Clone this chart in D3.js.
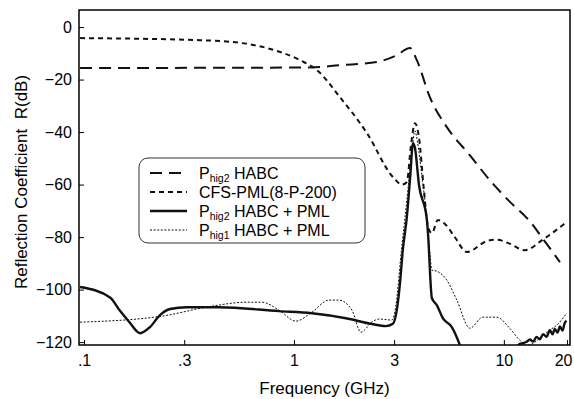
<!DOCTYPE html>
<html>
<head>
<meta charset="utf-8">
<script src="https://cdn.jsdelivr.net/npm/d3@7"></script>
<style>
  body { margin: 0; background: #fff; }
  svg { font-family: "Liberation Sans", Arial, sans-serif; }
</style>
</head>
<body>
<svg class="chart" width="574" height="399"></svg>
<script>

// tick values and their printed labels
let xTicks = [0.1, 0.3, 1, 3, 10, 20];
let xTickLabels = [".1", ".3", "1", "3", "10", "20"];
let yTicks = [0, -20, -40, -60, -80, -100, -120];

// Phig2 HABC (long dash)
let habc = [
  [0.0957, -15.6], [1.19, -15.4], [1.66, -14.5], [2.48, -13.3], [3.09, -10.7],
  [3.57, -8], [3.85, -12.6], [4.44, -26.7], [5.35, -38.1], [6.88, -48.8],
  [8.57, -58.3], [10.66, -66.5], [13.3, -74], [15.3, -80.5], [18.5, -89.5]
];

// CFS-PML(8-P-200) (short dash)
let cfsPml = [
  [0.0957, -4.2], [0.357, -5], [0.512, -5.7], [0.744, -8], [1.068, -12.6],
  [1.287, -16.4], [1.656, -26.7], [2.227, -40.4], [2.96, -57.1], [3.27, -60],
  [3.45, -59], [3.61, -45], [3.77, -36.6], [3.94, -42], [4.16, -62],
  [4.35, -76], [4.54, -78.5], [4.85, -73.5], [5.24, -75], [5.84, -80],
  [6.66, -85.7], [8.31, -81.5], [9.26, -81], [10.66, -82.5], [12.6, -85],
  [15.3, -81], [19.9, -74.3]
];

// Phig2 HABC + PML (solid)
let habc2Pml = [
  [0.0957, -99], [0.133, -103], [0.148, -108], [0.166, -112.8], [0.179, -116],
  [0.185, -116.6], [0.206, -114.3], [0.230, -109.7], [0.257, -107.4], [0.309, -106.7],
  [0.440, -106.7], [0.848, -108.2], [1.218, -109], [1.769, -110.9], [2.35, -113.1],
  [2.74, -113.9], [2.96, -113], [3.09, -107.8], [3.20, -97.5], [3.30, -85],
  [3.45, -72.4], [3.58, -57], [3.69, -44.2], [3.77, -46], [3.94, -60],
  [4.30, -73.5], [4.35, -78.5], [4.54, -103.2], [4.80, -106], [5.12, -110.9],
  [5.65, -114.3], [6.17, -121.1], [6.6, -128], [11.2, -128], [11.70, -121.1],
  [12.83, -119.9], [13.3, -119], [13.79, -119.8], [14.31, -118], [14.84, -118.9],
  [15.38, -117], [15.97, -118], [16.56, -115.5], [17.06, -117], [17.49, -115],
  [18.02, -116.4], [18.5, -114], [19.03, -115.6], [19.5, -112.7], [19.89, -111.9]
];

// Phig1 HABC + PML (fine dots)
let habc1Pml = [
  [0.0957, -112.4], [0.235, -110.1], [0.407, -106.3], [0.591, -104.8], [0.704, -104.8],
  [0.848, -107.8], [1.022, -112], [1.218, -108.6], [1.468, -104], [1.637, -104],
  [1.888, -107.8], [2.084, -116.2], [2.35, -112.4], [2.54, -111.2], [2.93, -111.6],
  [3.06, -106], [3.25, -85], [3.45, -66], [3.65, -47], [3.77, -39.5],
  [3.88, -44], [4.06, -56], [4.30, -73.5], [4.45, -87], [4.54, -92.6],
  [4.80, -93], [5.35, -96.4], [5.97, -104], [6.89, -114.7], [7.94, -110.5],
  [9.26, -110.5], [10.66, -114.7], [11.9, -119.2], [12.87, -121.1], [13.3, -121],
  [14.84, -118.5], [16.56, -115.4], [17.9, -113.5], [19.9, -109]
];

let legendNames = [
  ["P", "hig2", " HABC"],
  ["CFS-PML(8-P-200)", "", ""],
  ["P", "hig2", " HABC + PML"],
  ["P", "hig1", " HABC + PML"]
];

let svg = d3.select(".chart");

let margin = { top: 10, right: 4, bottom: 54, left: 79 };
let plotWidth = 574 - margin.left - margin.right;
let plotHeight = 399 - margin.top - margin.bottom;

let x = d3.scaleLog()
  .domain([0.0946, 20.66])
  .range([0, plotWidth]);

let y = d3.scaleLinear()
  .domain([-121.1, 6.5])
  .range([plotHeight, 0]);

let plot = svg.append("g").attr("transform", translate(margin.left, margin.top));

plot.append("clipPath").attr("id", "clip")
  .append("rect")
  .attr("width", plotWidth)
  .attr("height", plotHeight);

// inward ticks on bottom and left
let xAxis = d3.axisBottom(x)
  .tickValues(xTicks)
  .tickSize(-5)
  .tickPadding(10)
  .tickFormat((d, i) => xTickLabels[i]);

let yAxis = d3.axisLeft(y)
  .tickValues(yTicks)
  .tickSize(-5)
  .tickPadding(7);

let xGroup = plot.append("g").attr("transform", translate(0, plotHeight)).call(xAxis);
let yGroup = plot.append("g").call(yAxis);

[xGroup, yGroup].forEach(g => {
  g.select(".domain").remove();
  g.selectAll("line").attr("stroke", "#000").attr("stroke-width", 1);
  g.selectAll("text").attr("fill", "#000").style("font-size", "16px");
});

// the last label sits against the page edge; nudge it inside
xGroup.selectAll(".tick text").filter(d => d === 20).attr("dx", -4);

// frame
plot.append("rect")
  .attr("width", plotWidth)
  .attr("height", plotHeight)
  .attr("fill", "none")
  .attr("stroke", "#000")
  .attr("stroke-width", 1.5);

let line = d3.line()
  .x(d => x(d[0]))
  .y(d => y(d[1]))
  .curve(d3.curveMonotoneX);

let styles = [
  { data: habc, width: 2, dash: "12,7" },
  { data: cfsPml, width: 2, dash: "5,4" },
  { data: habc2Pml, width: 2.4, dash: null },
  { data: habc1Pml, width: 1, dash: "2,1.6" }
];

let curves = plot.append("g").attr("clip-path", "url(#clip)");
styles.forEach(s => {
  curves.append("path")
    .datum(s.data)
    .attr("d", line)
    .attr("fill", "none")
    .attr("stroke", "#111")
    .attr("stroke-width", s.width)
    .attr("stroke-dasharray", s.dash);
});

// legend
let legend = svg.append("g").attr("transform", translate(139, 158));
legend.append("rect")
  .attr("width", 226)
  .attr("height", 85)
  .attr("rx", 9)
  .attr("fill", "#fff")
  .attr("stroke", "#333")
  .attr("stroke-width", 1);

legendNames.forEach((n, i) => {
  let cy = 15 + i * 19;
  legend.append("line")
    .attr("x1", 11).attr("x2", 48)
    .attr("y1", cy).attr("y2", cy)
    .attr("stroke", "#111")
    .attr("stroke-width", styles[i].width)
    .attr("stroke-dasharray", styles[i].dash);
  let t = legend.append("text")
    .attr("x", 60)
    .attr("y", cy + 6)
    .style("font-size", "16px");
  t.append("tspan").text(n[0]);
  if (n[1]) {
    t.append("tspan").attr("dy", 3).style("font-size", "10.5px").text(n[1]);
    t.append("tspan").attr("dy", -3).text(n[2]);
  }
});

// axis titles
svg.append("text")
  .attr("x", margin.left + plotWidth / 2)
  .attr("y", 394)
  .attr("text-anchor", "middle")
  .style("font-size", "17px")
  .text("Frequency (GHz)");

svg.append("text")
  .attr("transform", "translate(27,182) rotate(-90)")
  .attr("text-anchor", "middle")
  .style("font-size", "17px")
  .style("white-space", "pre")
  .text("Reflection Coefficient  R(dB)");

function translate(x, y) {
  return 'translate(' + x + ',' + y + ')';
}
</script>
</body>
</html>
